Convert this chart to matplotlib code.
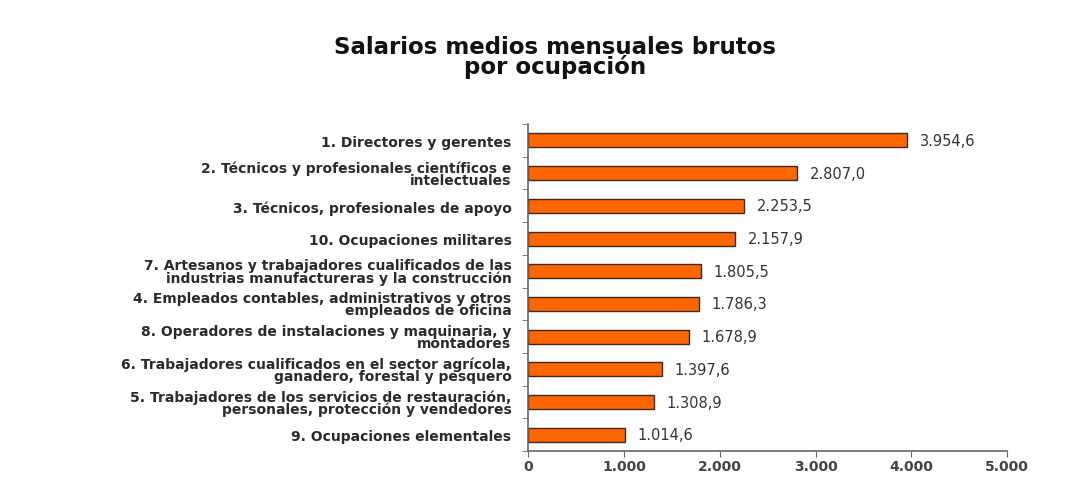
import matplotlib
matplotlib.use("Agg")
import matplotlib.pyplot as plt
import numpy as np

plt.rcParams['font.family'] = ['DejaVu Sans']

occupations = [
    "1. Directores y gerentes",
    "2. Técnicos y profesionales científicos e\nintelectuales",
    "3. Técnicos, profesionales de apoyo",
    "10. Ocupaciones militares",
    "7. Artesanos y trabajadores cualificados de las\nindustrias manufactureras y la construcción",
    "4. Empleados contables, administrativos y otros\nempleados de oficina",
    "8. Operadores de instalaciones y maquinaria, y\nmontadores",
    "6. Trabajadores cualificados en el sector agrícola,\nganadero, forestal y pesquero",
    "5. Trabajadores de los servicios de restauración,\npersonales, protección y vendedores",
    "9. Ocupaciones elementales",
]
salaries = [3954.6, 2807.0, 2253.5, 2157.9, 1805.5, 1786.3, 1678.9, 1397.6, 1308.9, 1014.6]
x_ticks = [0, 1000, 2000, 3000, 4000, 5000]


def es_number(v, decimals):
    s = f"{v:,.{decimals}f}"
    return s.replace(",", "X").replace(".", ",").replace("X", ".")


fig = plt.figure(figsize=(10.67, 4.81), dpi=100)
ax = fig.add_axes([0.495, 0.06, 0.449, 0.68])

pos = np.arange(len(occupations))
ax.barh(pos, salaries, height=0.43, color="#FF6600", edgecolor="#3a2a20", linewidth=1.0)

for y, v in zip(pos, salaries):
    ax.text(v + 130, y, es_number(v, 1), va="center", ha="left",
            fontsize=10.5, color="#333333")

ax.set_ylim(len(occupations) - 0.5, -0.5)
ax.set_xlim(0, 5000)

ax.set_yticks(pos)
ax.set_yticklabels(occupations, fontsize=10, fontweight="bold", color="#2a2a2a",
                   linespacing=0.8)
ax.tick_params(axis="y", length=0, pad=12)
ax.set_yticks(np.arange(-0.5, len(occupations), 1), minor=True)
ax.tick_params(axis="y", which="minor", length=4, color="#666666")

ax.set_xticks(x_ticks)
ax.set_xticklabels([es_number(t, 0) for t in x_ticks], fontsize=10,
                   fontweight="bold", color="#444444")
ax.tick_params(axis="x", length=4, color="#666666", pad=2)

for side in ["top", "right"]:
    ax.spines[side].set_visible(False)
ax.spines["left"].set_color("#666666")
ax.spines["bottom"].set_color("#666666")
ax.spines["left"].set_linewidth(1.2)
ax.spines["bottom"].set_linewidth(1.2)

fig.text(0.52, 0.881, "Salarios medios mensuales brutos\npor ocupación",
         ha="center", va="center", fontsize=16.5, fontweight="bold",
         color="#111111", linespacing=0.8)

fig.savefig("out.png", dpi=100)
